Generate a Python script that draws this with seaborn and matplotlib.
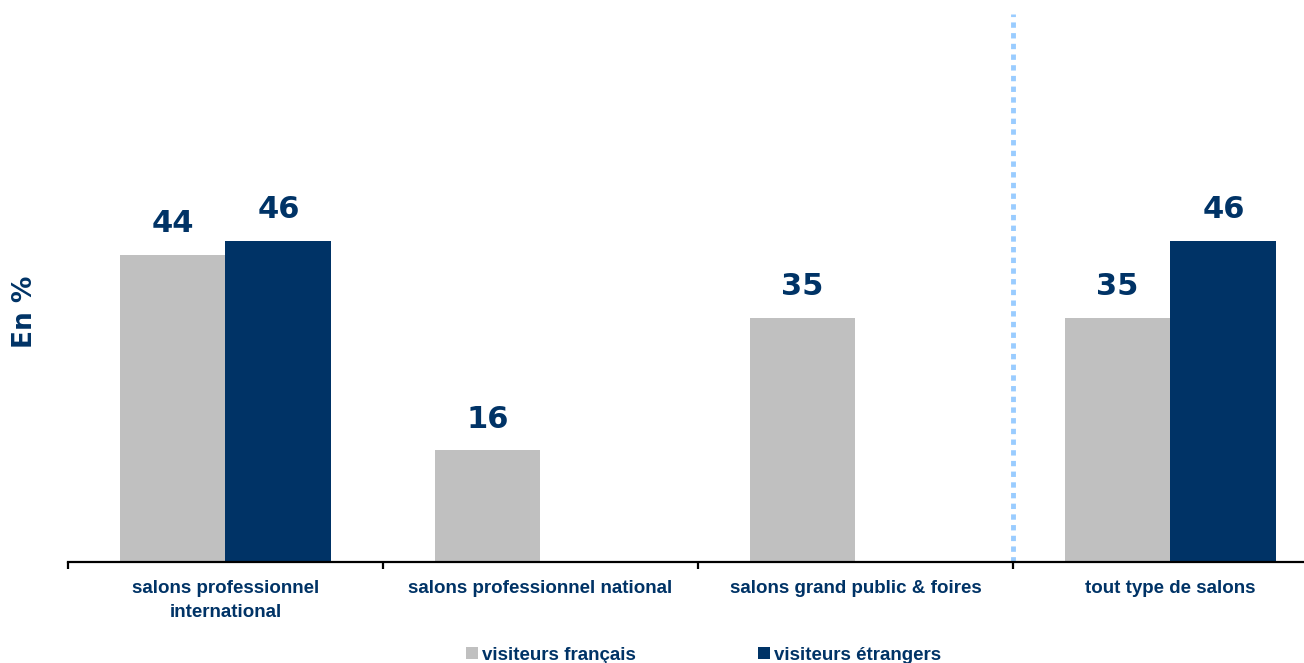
import numpy as np
import pandas as pd
import matplotlib
matplotlib.use("Agg")
import matplotlib.pyplot as plt
import seaborn as sns
from matplotlib.patches import Patch

categories = ["salons professionnel\ninternational",
              "salons professionnel national",
              "salons grand public & foires",
              "tout type de salons"]
series_names = ["visiteurs français", "visiteurs étrangers"]
francais = [44, 16, 35, 35]
etrangers = [46, np.nan, np.nan, 46]

NAVY = "#003366"
GRAY = "#C0C0C0"
DOT = "#99CCFF"

df = pd.DataFrame({
    "cat": categories * 2,
    "serie": [series_names[0]] * 4 + [series_names[1]] * 4,
    "val": francais + etrangers,
})

sns.set_theme(style="white")
plt.rcParams["font.family"] = ["DejaVu Sans"]

fig = plt.figure(figsize=(13.04, 6.63), dpi=100)
ax = fig.add_axes([68 / 1304, 1 - 562 / 663, 1260 / 1304, 548 / 663])

sns.barplot(data=df, x="cat", y="val", hue="serie", order=categories,
            hue_order=series_names, palette=[GRAY, NAVY], width=0.672,
            dodge=True, saturation=1, errorbar=None, legend=False,
            linewidth=0, edgecolor="none", ax=ax)

for cont in ax.containers:
    labels = ["" if np.isnan(v) else f"{v:.0f}" for v in cont.datavalues]
    ax.bar_label(cont, labels=labels, padding=12, fontsize=22,
                 fontweight="heavy", color=NAVY, family="DejaVu Sans")

ax.set_xlim(-0.5, 3.5)
ax.set_ylim(0, 78.5)
ax.set_yticks([])
ax.set_xlabel("")
ax.set_ylabel("En %", fontsize=19, fontweight="bold", color=NAVY)
ax.yaxis.set_label_coords(-0.0235, 0.456)

for s in ["top", "right", "left"]:
    ax.spines[s].set_visible(False)
ax.spines["bottom"].set_color("black")
ax.spines["bottom"].set_linewidth(1.6)

ax.set_xticks(range(len(categories)))
ax.set_xticklabels(categories, fontsize=13.5, fontweight="bold", color=NAVY,
                   family="Liberation Sans", linespacing=1.5)
ax.tick_params(axis="x", which="major", length=0, pad=13)
ax.set_xticks([-0.5, 0.5, 1.5, 2.5, 3.5], minor=True)
ax.tick_params(axis="x", which="minor", length=5, width=1.6, color="black",
               direction="out", bottom=True)

ax.axvline(2.5, ymin=0, ymax=1, color=DOT, linewidth=3.5,
           linestyle=(0, (1.1, 1.1)), clip_on=False)

handles = [Patch(facecolor=GRAY, edgecolor="none"),
           Patch(facecolor=NAVY, edgecolor="none")]
leg = fig.legend(handles, series_names, loc="center left", ncol=2,
                 bbox_to_anchor=(466 / 1304, 1 - 655 / 663), frameon=False,
                 borderpad=0, borderaxespad=0,
                 handlelength=0.65, handleheight=0.65, handletextpad=0.2,
                 columnspacing=6.5,
                 prop={"family": "Liberation Sans", "weight": "bold", "size": 13.5})
for t in leg.get_texts():
    t.set_color(NAVY)

fig.savefig("out.png", dpi=100)
